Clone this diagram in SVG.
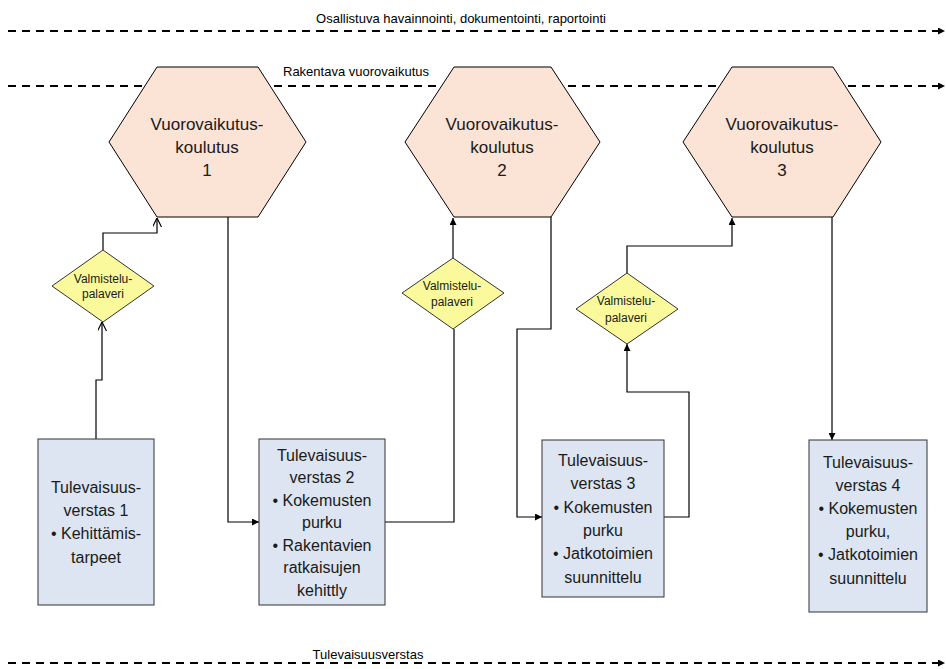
<svg xmlns="http://www.w3.org/2000/svg" width="946" height="669" viewBox="0 0 946 669">
<style>
  .bg { fill: #ffffff; }
  .dash { stroke: #000; stroke-width: 2; stroke-dasharray: 8 6; fill: none; }
  .lbl { font-family: "Liberation Sans", Arial, sans-serif; font-size: 13px; fill: #000; text-anchor: middle; }
  .hex { fill: #FBE3D5; stroke: #000; stroke-width: 1; }
  .dia { fill: #FAFA9C; stroke: #333; stroke-width: 1; }
  .box { fill: #DCE5F1; stroke: #333; stroke-width: 1; }
  .ht { font-family: "Liberation Sans", Arial, sans-serif; font-size: 17px; fill: #1a1a1a; text-anchor: middle; }
  .bt { font-family: "Liberation Sans", Arial, sans-serif; font-size: 16px; fill: #1a1a1a; text-anchor: middle; }
  .dt { font-family: "Liberation Sans", Arial, sans-serif; font-size: 12px; fill: #1a1a1a; text-anchor: middle; }
  .con { stroke: #000; stroke-width: 1.2; fill: none; }
</style>
<defs>
  <marker id="fa" viewBox="0 0 10 10" refX="10" refY="5" markerWidth="7" markerHeight="7" markerUnits="userSpaceOnUse" orient="auto">
    <path d="M0,0 L10,5 L0,10 z" fill="#000"/>
  </marker>
  <marker id="oa" viewBox="0 0 10 10" refX="10" refY="5" markerWidth="9" markerHeight="9" markerUnits="userSpaceOnUse" orient="auto">
    <path d="M0,0 L10,5 L0,10" fill="none" stroke="#000" stroke-width="1.3"/>
  </marker>
  <marker id="da" viewBox="0 0 10 10" refX="10" refY="5" markerWidth="7" markerHeight="7" markerUnits="userSpaceOnUse" orient="auto">
    <path d="M0,0 L10,5 L0,10 z" fill="#000"/>
  </marker>
</defs>
<rect class="bg" x="0" y="0" width="946" height="669"/>

<g id="timelines">
  <line class="dash" x1="8" y1="31" x2="945" y2="31" marker-end="url(#da)"/>
  <line class="dash" x1="8" y1="86" x2="945" y2="86" marker-end="url(#da)"/>
  <line class="dash" x1="8" y1="663" x2="945" y2="663" marker-end="url(#da)"/>
  <text class="lbl" x="461" y="23">Osallistuva havainnointi, dokumentointi, raportointi</text>
  <text class="lbl" x="356" y="76">Rakentava vuorovaikutus</text>
  <text class="lbl" x="368" y="659">Tulevaisuusverstas</text>
</g>

<g id="connectors">
  <polyline class="con" points="96,439 96,380 102,380 102,322" marker-end="url(#oa)"/>
  <polyline class="con" points="103,250 103,233 157,233 157,218" marker-end="url(#oa)"/>
  <polyline class="con" points="228,217 228,522 259,522" marker-end="url(#fa)"/>
  <polyline class="con" points="385,522 454,522 454,329"/>
  <polyline class="con" points="453,258 453,218" marker-end="url(#fa)"/>
  <polyline class="con" points="551,217 551,329 517,329 517,517 542,517" marker-end="url(#fa)"/>
  <polyline class="con" points="664,517 689,517 689,392 627,392 627,344" marker-end="url(#fa)"/>
  <polyline class="con" points="627,273 627,246 732,246 732,218" marker-end="url(#fa)"/>
  <polyline class="con" points="832,217 832,440" marker-end="url(#fa)"/>
</g>

<g id="hex1">
  <polygon class="hex" points="157,67 258,67 306,142 258,217 157,217 109,142"/>
  <text class="ht" x="207" y="130">Vuorovaikutus-</text>
  <text class="ht" x="207" y="153">koulutus</text>
  <text class="ht" x="207" y="176">1</text>
</g>
<g id="hex2">
  <polygon class="hex" points="454,67 551,67 600,142 551,217 454,217 405,142"/>
  <text class="ht" x="502" y="130">Vuorovaikutus-</text>
  <text class="ht" x="502" y="153">koulutus</text>
  <text class="ht" x="502" y="176">2</text>
</g>
<g id="hex3">
  <polygon class="hex" points="732,67 833,67 881,142 833,217 732,217 683,142"/>
  <text class="ht" x="782" y="130">Vuorovaikutus-</text>
  <text class="ht" x="782" y="153">koulutus</text>
  <text class="ht" x="782" y="176">3</text>
</g>

<g id="diamond1">
  <polygon class="dia" points="103,250 154,286 103,322 52,286"/>
  <text class="dt" x="103" y="283">Valmistelu-</text>
  <text class="dt" x="103" y="298">palaveri</text>
</g>
<g id="diamond2">
  <polygon class="dia" points="453,258 504,293 453,329 402,293"/>
  <text class="dt" x="452" y="290">Valmistelu-</text>
  <text class="dt" x="452" y="306">palaveri</text>
</g>
<g id="diamond3">
  <polygon class="dia" points="627,273 678,309 627,344 576,309"/>
  <text class="dt" x="626" y="305">Valmistelu-</text>
  <text class="dt" x="626" y="322">palaveri</text>
</g>

<g id="box1">
  <rect class="box" x="38" y="439" width="116" height="166"/>
  <text class="bt" x="96" y="493">Tulevaisuus-</text>
  <text class="bt" x="96" y="516">verstas 1</text>
  <text class="bt" x="96" y="539">• Kehittämis-</text>
  <text class="bt" x="96" y="563">tarpeet</text>
</g>
<g id="box2">
  <rect class="box" x="259" y="439" width="126" height="166"/>
  <text class="bt" x="322" y="461">Tulevaisuus-</text>
  <text class="bt" x="322" y="483">verstas 2</text>
  <text class="bt" x="322" y="506">• Kokemusten</text>
  <text class="bt" x="322" y="528">purku</text>
  <text class="bt" x="322" y="551">• Rakentavien</text>
  <text class="bt" x="322" y="573">ratkaisujen</text>
  <text class="bt" x="322" y="596">kehittly</text>
</g>
<g id="box3">
  <rect class="box" x="542" y="440" width="122" height="157"/>
  <text class="bt" x="603" y="466">Tulevaisuus-</text>
  <text class="bt" x="603" y="489">verstas 3</text>
  <text class="bt" x="603" y="513">• Kokemusten</text>
  <text class="bt" x="603" y="536">purku</text>
  <text class="bt" x="603" y="559">• Jatkotoimien</text>
  <text class="bt" x="603" y="583">suunnittelu</text>
</g>
<g id="box4">
  <rect class="box" x="809" y="440" width="118" height="172"/>
  <text class="bt" x="868" y="468">Tulevaisuus-</text>
  <text class="bt" x="868" y="491">verstas 4</text>
  <text class="bt" x="868" y="514">• Kokemusten</text>
  <text class="bt" x="868" y="537">purku,</text>
  <text class="bt" x="868" y="560">• Jatkotoimien</text>
  <text class="bt" x="868" y="584">suunnittelu</text>
</g>
</svg>
